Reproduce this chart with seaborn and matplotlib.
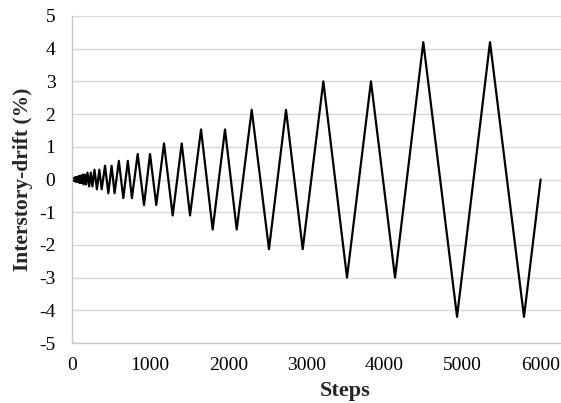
import pandas as pd
import seaborn as sns
import matplotlib.pyplot as plt

# Peak / valley points of the cyclic drift history
steps = [0, 1, 4, 7, 10, 13, 17, 21, 25, 30, 36, 41, 47, 54, 62, 70, 77,
         87, 98, 109, 121, 134, 149, 164, 180, 198, 220, 241, 262,
         288, 319, 350, 380,
         423, 465, 507, 545,
         600, 657, 715, 767,
         841, 922, 999, 1079,
         1178, 1289, 1405, 1511,
         1652, 1801, 1959, 2109,
         2301, 2522, 2740, 2954,
         3218, 3521, 3828, 4136,
         4498, 4930, 5352, 5787,
         6000]
drift = [0, 0.028, -0.028, 0.028, -0.028, 0.039, -0.039, 0.039, -0.039,
         0.055, -0.055, 0.055, -0.055, 0.077, -0.077, 0.077, -0.077,
         0.11, -0.11, 0.11, -0.11, 0.15, -0.15, 0.15, -0.15,
         0.21, -0.21, 0.21, -0.21,
         0.30, -0.30, 0.30, -0.30,
         0.42, -0.42, 0.42, -0.42,
         0.57, -0.57, 0.57, -0.57,
         0.78, -0.78, 0.78, -0.78,
         1.10, -1.10, 1.10, -1.10,
         1.53, -1.53, 1.53, -1.53,
         2.13, -2.13, 2.13, -2.13,
         3.0, -3.0, 3.0, -3.0,
         4.2, -4.2, 4.2, -4.2,
         0]
x_ticks = [0, 1000, 2000, 3000, 4000, 5000, 6000]
y_ticks = [-5, -4, -3, -2, -1, 0, 1, 2, 3, 4, 5]

df = pd.DataFrame({'Steps': steps, 'Drift': drift})

sns.set_style('white')
plt.rcParams['font.family'] = ['Liberation Serif', 'DejaVu Serif']
plt.rcParams['axes.unicode_minus'] = False

fig = plt.figure(figsize=(5.61, 4.03), dpi=100)
ax = fig.add_axes([72 / 561, 60 / 403, 1 - 72 / 561, 327 / 403])

sns.lineplot(data=df, x='Steps', y='Drift', color='black', linewidth=1.6,
             sort=False, estimator=None, ax=ax)

ax.set_xlim(0, 6261)
ax.set_ylim(-5, 5)
ax.set_xticks(x_ticks)
ax.set_yticks(y_ticks)
ax.grid(axis='y', color='#d9d9d9', linewidth=1.0)
ax.set_axisbelow(True)

for side in ['top', 'right']:
    ax.spines[side].set_visible(False)
for side in ['left', 'bottom']:
    ax.spines[side].set_color('#c8c8c8')
    ax.spines[side].set_linewidth(1.0)

ax.tick_params(axis='both', colors='#c8c8c8', labelcolor='black',
               labelsize=14, length=4, width=1.0, direction='out')
ax.tick_params(axis='y', pad=8)
ax.tick_params(axis='x', pad=6)

ax.set_xlabel('Steps', fontsize=16, fontweight='bold')
ax.set_ylabel('Interstory-drift (%)', fontsize=15.5, fontweight='bold')
ax.xaxis.set_label_coords((345 - 72) / 489, -0.115)
ax.yaxis.set_label_coords((33 - 72) / 489, 0.5)

fig.savefig('out.png', dpi=100)
